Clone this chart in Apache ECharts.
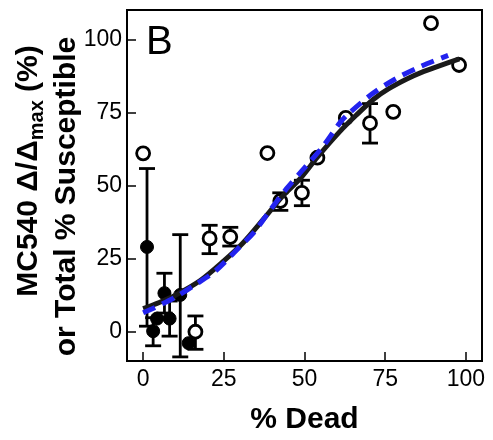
<!DOCTYPE html>
<html>
<head>
<meta charset="utf-8">
<script src="https://cdn.jsdelivr.net/npm/echarts@6/dist/echarts.min.js"></script>
<style>html,body{margin:0;padding:0;background:#fff}#c{width:493px;height:440px}</style>
</head>
<body>
<div id="c"></div>
<script>
// ---- data ----
const xTicks = [0, 25, 50, 75, 100];
const yTicks = [0, 25, 50, 75, 100];

// open circles (% total susceptible)
const openX = [0, 16.2, 20.6, 27, 38.5, 42.5, 49.2, 54, 62.8, 70.3, 77.5, 89.2, 97.9];
const openY = [61, 0, 31.9, 32.4, 61.1, 44.7, 47.5, 59.5, 73.1, 71.3, 75.2, 105.5, 91.2];
const openErrLow  = [null, -6, 26.7, 29.3, null, 41.5, 43.1, null, null, 64.5, null, null, null];
const openErrHigh = [null, 5.4, 36.4, 35.7, null, 47.5, 51.8, null, null, 78, null, null, null];

// filled circles (MC540)
const filledX = [1.2, 3.1, 4.3, 6.6, 8.2, 11.5, 14.1];
const filledY = [29, 0.2, 4.5, 13.2, 4.5, 12.6, -3.9];
const filledErrLow  = [1.9, -4.8, null, 6.4, -1.5, -8.6, null];
const filledErrHigh = [55.8, 4.8, null, 20, 10.5, 33.2, null];

// fitted curves
const blackX = [0, 5, 10, 17.7, 25, 31, 37.6, 43.5, 48.7, 54, 61, 66, 71.3, 76, 81.7, 87, 92, 98];
const blackY = [7.9, 10, 12.5, 17.5, 24.2, 30.4, 38.9, 46.7, 52.4, 59.7, 68.5, 74, 79.4, 83, 86.4, 89, 91, 93.3];
const blueX = [0, 5, 10, 16, 22.4, 30.6, 34.2, 39, 44.5, 50, 55.9, 61, 63.1, 71.3, 78.6, 85.8, 94.5];
const blueY = [6.5, 9, 11.8, 16, 20.8, 29.8, 33.8, 41, 49, 56, 63.6, 71.5, 74, 81.6, 86.7, 90.6, 94.5];

// ---- build ----
const FONT = "'Liberation Sans', Arial, sans-serif";
const zip = (a, b) => a.map((v, i) => [v, b[i]]);
function errData(xs, lo, hi) {
  const out = [];
  xs.forEach((x, i) => { if (lo[i] != null) out.push([x, lo[i], hi[i]]); });
  return out;
}
function errRender(params, api) {
  const x = api.value(0), lo = api.value(1), hi = api.value(2);
  const p1 = api.coord([x, lo]), p2 = api.coord([x, hi]);
  const w = 8;
  const st = { stroke: '#000', lineWidth: 2.8 };
  return {
    type: 'group',
    children: [
      { type: 'line', shape: { x1: p1[0], y1: p1[1], x2: p2[0], y2: p2[1] }, style: st },
      { type: 'line', shape: { x1: p1[0] - w, y1: p1[1], x2: p1[0] + w, y2: p1[1] }, style: st },
      { type: 'line', shape: { x1: p2[0] - w, y1: p2[1], x2: p2[0] + w, y2: p2[1] }, style: st }
    ]
  };
}

const chart = echarts.init(document.getElementById('c'), null, { renderer: 'canvas' });
chart.setOption({
  animation: false,
  backgroundColor: '#fff',
  grid: { left: 127, top: 10, width: 355, height: 354, show: true, borderColor: '#000', borderWidth: 2, backgroundColor: 'transparent' },
  xAxis: {
    type: 'value', min: -5, max: 105,
    name: '% Dead', nameLocation: 'middle', nameGap: 44,
    nameTextStyle: { fontFamily: FONT, fontSize: 30, fontWeight: 'bold', color: '#000' },
    axisLine: { show: false, onZero: false },
    splitLine: { show: false },
    axisTick: { show: true, inside: true, length: 9, customValues: xTicks, lineStyle: { color: '#000', width: 1.5 } },
    axisLabel: { customValues: xTicks, margin: 7, fontFamily: FONT, fontSize: 23, color: '#000' }
  },
  yAxis: {
    type: 'value', min: -10, max: 110,
    axisLine: { show: false, onZero: false },
    splitLine: { show: false },
    axisTick: { show: true, inside: true, length: 9, customValues: yTicks, lineStyle: { color: '#000', width: 1.5 } },
    axisLabel: { customValues: yTicks, margin: 5, fontFamily: FONT, fontSize: 23, color: '#000' }
  },
  graphic: [
    { type: 'text', left: 146, top: 23, style: { text: 'B', font: "40px " + FONT, fill: '#000' } },
    { type: 'text', x: 29, y: 171, rotation: Math.PI / 2,
      style: {
        text: '{b|MC540 Δ/Δ}{s|max}{b| (%)}',
        align: 'center', verticalAlign: 'middle',
        rich: {
          b: { fontFamily: FONT, fontSize: 30, fontWeight: 'bold', fill: '#000', lineHeight: 36 },
          s: { fontFamily: FONT, fontSize: 20, fontWeight: 'bold', fill: '#000', lineHeight: 20, verticalAlign: 'bottom' }
        }
      } },
    { type: 'text', x: 67, y: 196.5, rotation: Math.PI / 2,
      style: { text: 'or Total % Susceptible', align: 'center', verticalAlign: 'middle',
        fontFamily: FONT, fontSize: 30, fontWeight: 'bold', fill: '#000' } }
  ],
  series: [
    { type: 'custom', renderItem: errRender, data: errData(openX, openErrLow, openErrHigh), z: 2, encode: { x: 0, y: [1, 2] } },
    { type: 'custom', renderItem: errRender, data: errData(filledX, filledErrLow, filledErrHigh), z: 2, encode: { x: 0, y: [1, 2] } },
    { type: 'scatter', data: zip(filledX, filledY), symbol: 'circle', symbolSize: 13, z: 3,
      itemStyle: { color: '#000', borderColor: '#000', borderWidth: 1, opacity: 1 } },
    { type: 'scatter', data: zip(openX, openY), symbol: 'circle', symbolSize: 13, z: 3,
      itemStyle: { color: '#fff', borderColor: '#000', borderWidth: 2.8, opacity: 1 } },
    { type: 'line', data: zip(blackX, blackY), showSymbol: false, smooth: 0.3, z: 4,
      lineStyle: { color: '#1a1a1a', width: 5 } },
    { type: 'line', data: zip(blueX, blueY), showSymbol: false, smooth: 0.3, z: 5,
      lineStyle: { color: '#2222ee', width: 5, type: [13, 8] } }
  ]
});
</script>
</body>
</html>
